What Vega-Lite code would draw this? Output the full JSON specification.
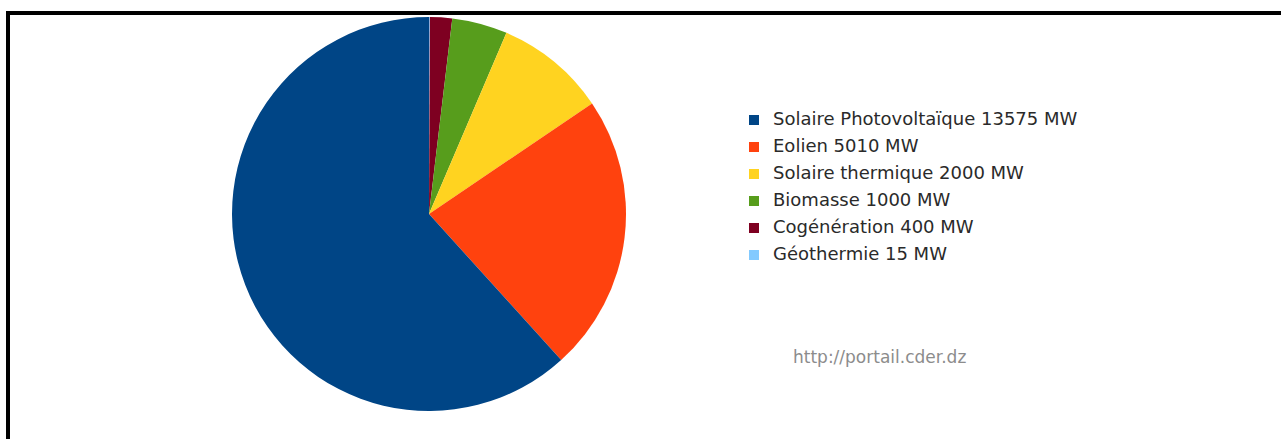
{
  "$schema": "https://vega.github.io/schema/vega-lite/v6.json",
  "width": 858,
  "height": 428,
  "padding": {"left": 0, "top": 0, "right": 423, "bottom": 11},
  "autosize": {"type": "none"},
  "background": "white",
  "config": {"view": {"stroke": null}},
  "title": {
    "text": "http://portail.cder.dz",
    "orient": "bottom",
    "anchor": "start",
    "frame": "group",
    "offset": 0,
    "dx": 793,
    "dy": -91,
    "font": "DejaVu Sans",
    "fontSize": 17,
    "fontWeight": "normal",
    "color": "#8c8c8c"
  },
  "layer": [
    {
      "data": {
        "values": [
          {"source": "Géothermie", "label": "Géothermie 15 MW", "puissance": 15, "rang": 1},
          {"source": "Cogénération", "label": "Cogénération 400 MW", "puissance": 400, "rang": 2},
          {"source": "Biomasse", "label": "Biomasse 1000 MW", "puissance": 1000, "rang": 3},
          {"source": "Solaire thermique", "label": "Solaire thermique 2000 MW", "puissance": 2000, "rang": 4},
          {"source": "Eolien", "label": "Eolien 5010 MW", "puissance": 5010, "rang": 5},
          {"source": "Solaire Photovoltaïque", "label": "Solaire Photovoltaïque 13575 MW", "puissance": 13575, "rang": 6}
        ]
      },
      "mark": {"type": "arc", "outerRadius": 197, "stroke": null},
      "encoding": {
        "theta": {"field": "puissance", "type": "quantitative", "stack": true},
        "order": {"field": "rang", "type": "quantitative", "sort": "ascending"},
        "color": {
          "field": "label",
          "type": "nominal",
          "scale": {
            "domain": [
              "Solaire Photovoltaïque 13575 MW",
              "Eolien 5010 MW",
              "Solaire thermique 2000 MW",
              "Biomasse 1000 MW",
              "Cogénération 400 MW",
              "Géothermie 15 MW"
            ],
            "range": ["#004586", "#ff420e", "#ffd320", "#579d1c", "#7e0021", "#83caff"]
          },
          "legend": {
            "title": null,
            "orient": "none",
            "legendX": 745,
            "legendY": 111,
            "padding": 0,
            "symbolType": "square",
            "symbolSize": 100,
            "symbolStrokeWidth": 0,
            "labelFont": "DejaVu Sans",
            "labelFontSize": 18,
            "labelColor": "#2a2a2a",
            "labelOffset": 10,
            "labelLimit": 0,
            "rowPadding": 9
          }
        }
      }
    },
    {
      "data": {"values": [{}]},
      "mark": {"type": "rule", "strokeWidth": 4, "color": "black"},
      "encoding": {
        "x": {"value": 6},
        "x2": {"value": 1295},
        "y": {"value": 13}
      }
    },
    {
      "data": {"values": [{}]},
      "mark": {"type": "rule", "strokeWidth": 4, "color": "black"},
      "encoding": {
        "x": {"value": 8},
        "y": {"value": 11},
        "y2": {"value": 439}
      }
    }
  ]
}
